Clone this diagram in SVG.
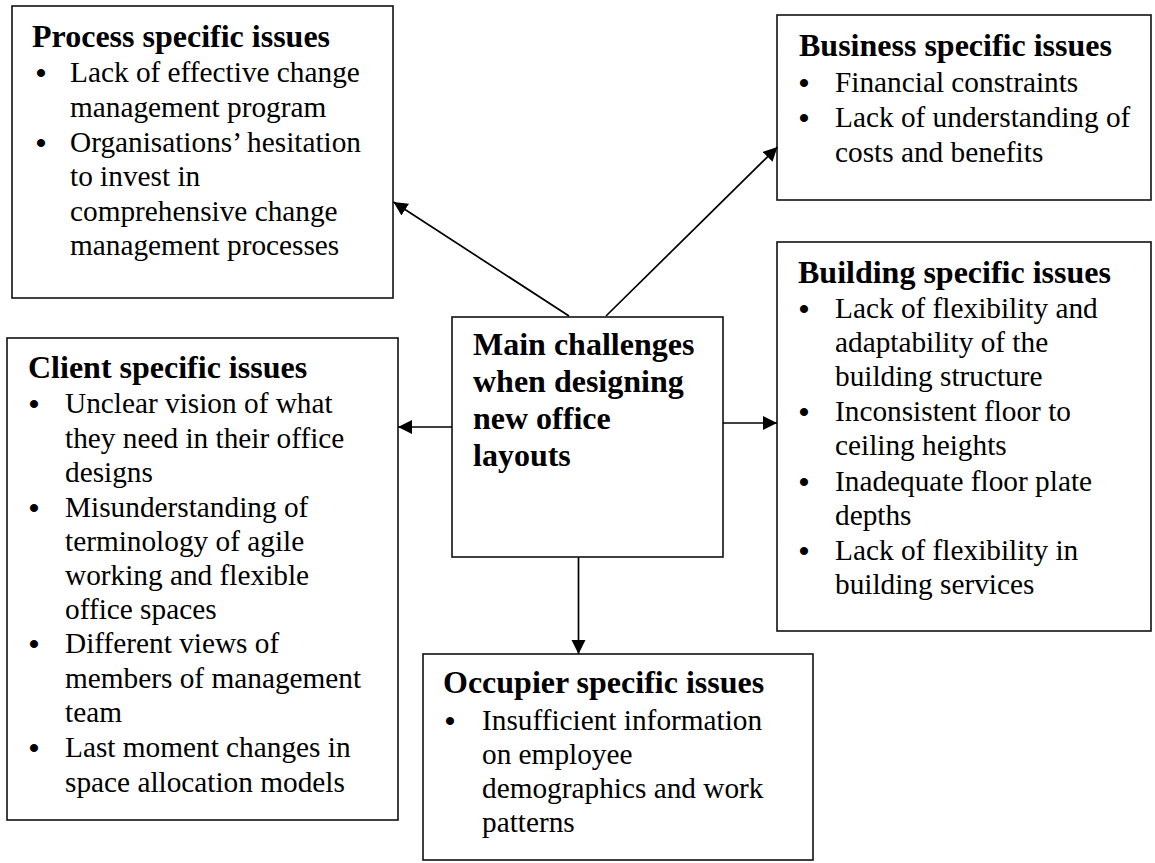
<svg xmlns="http://www.w3.org/2000/svg" width="1155" height="863" viewBox="0 0 1155 863">
  <style>
    .box { fill: #ffffff; stroke: #111111; stroke-width: 1.6; }
    .t { font-family: "Liberation Serif", "Times New Roman", serif; font-weight: bold; font-size: 32px; fill: #000000; }
    .b { font-family: "Liberation Serif", "Times New Roman", serif; font-size: 29.3px; fill: #000000; }
    .dot { font-family: "Liberation Serif", "Times New Roman", serif; font-size: 30px; font-weight: bold; fill: #000000; text-anchor: middle; }
    .edge { fill: none; stroke: #000000; stroke-width: 1.7; marker-end: url(#head); }
  </style>
  <defs>
    <marker id="head" markerUnits="userSpaceOnUse" markerWidth="15" markerHeight="15" refX="14" refY="7" orient="auto">
      <path d="M0,0 L14,7 L0,14 z" fill="#000000"/>
    </marker>
  </defs>
  <rect width="1155" height="863" fill="#ffffff"/>

  <!-- Process specific issues -->
  <g id="process">
    <rect class="box" x="12" y="6" width="381" height="292"/>
    <text class="t" x="32" y="47">Process specific issues</text>
    <text class="dot" x="41" y="83">•</text>
    <text class="b" x="70" y="82">Lack of effective change</text>
    <text class="b" x="70" y="117">management program</text>
    <text class="dot" x="41" y="153">•</text>
    <text class="b" x="70" y="152">Organisations’ hesitation</text>
    <text class="b" x="70" y="186">to invest in</text>
    <text class="b" x="70" y="221">comprehensive change</text>
    <text class="b" x="70" y="255">management processes</text>
  </g>

  <!-- Business specific issues -->
  <g id="business">
    <rect class="box" x="777" y="15" width="374" height="185"/>
    <text class="t" x="799" y="56">Business specific issues</text>
    <text class="dot" x="804" y="93">•</text>
    <text class="b" x="835" y="92">Financial constraints</text>
    <text class="dot" x="804" y="128">•</text>
    <text class="b" x="835" y="127">Lack of understanding of</text>
    <text class="b" x="835" y="162">costs and benefits</text>
  </g>

  <!-- Building specific issues -->
  <g id="building">
    <rect class="box" x="777" y="242" width="374" height="389"/>
    <text class="t" x="798" y="283">Building specific issues</text>
    <text class="dot" x="804" y="319">•</text>
    <text class="b" x="835" y="318">Lack of flexibility and</text>
    <text class="b" x="835" y="352">adaptability of the</text>
    <text class="b" x="835" y="386">building structure</text>
    <text class="dot" x="804" y="422">•</text>
    <text class="b" x="835" y="421">Inconsistent floor to</text>
    <text class="b" x="835" y="455">ceiling heights</text>
    <text class="dot" x="804" y="492">•</text>
    <text class="b" x="835" y="491">Inadequate floor plate</text>
    <text class="b" x="835" y="525">depths</text>
    <text class="dot" x="804" y="561">•</text>
    <text class="b" x="835" y="560">Lack of flexibility in</text>
    <text class="b" x="835" y="594">building services</text>
  </g>

  <!-- Client specific issues -->
  <g id="client">
    <rect class="box" x="7" y="338" width="391" height="482"/>
    <text class="t" x="28" y="378">Client specific issues</text>
    <text class="dot" x="34" y="414">•</text>
    <text class="b" x="65" y="413">Unclear vision of what</text>
    <text class="b" x="65" y="448">they need in their office</text>
    <text class="b" x="65" y="482">designs</text>
    <text class="dot" x="34" y="518">•</text>
    <text class="b" x="65" y="517">Misunderstanding of</text>
    <text class="b" x="65" y="551">terminology of agile</text>
    <text class="b" x="65" y="585">working and flexible</text>
    <text class="b" x="65" y="619">office spaces</text>
    <text class="dot" x="34" y="654">•</text>
    <text class="b" x="65" y="653">Different views of</text>
    <text class="b" x="65" y="688">members of management</text>
    <text class="b" x="65" y="722">team</text>
    <text class="dot" x="34" y="758">•</text>
    <text class="b" x="65" y="757">Last moment changes in</text>
    <text class="b" x="65" y="792">space allocation models</text>
  </g>

  <!-- Occupier specific issues -->
  <g id="occupier">
    <rect class="box" x="423" y="654" width="390" height="206"/>
    <text class="t" x="443" y="693">Occupier specific issues</text>
    <text class="dot" x="450" y="731">•</text>
    <text class="b" x="482" y="730">Insufficient information</text>
    <text class="b" x="482" y="764">on employee</text>
    <text class="b" x="482" y="798">demographics and work</text>
    <text class="b" x="482" y="832">patterns</text>
  </g>

  <!-- Central node -->
  <g id="main">
    <rect class="box" x="452" y="317" width="271" height="240"/>
    <text class="t" x="473" y="355">Main challenges</text>
    <text class="t" x="473" y="392">when designing</text>
    <text class="t" x="473" y="429">new office</text>
    <text class="t" x="473" y="466">layouts</text>
  </g>

  <!-- Connectors from the central node -->
  <g id="connectors">
    <line class="edge" x1="569" y1="316" x2="393.5" y2="202"/>
    <line class="edge" x1="606" y1="316" x2="777.5" y2="147"/>
    <line class="edge" x1="452" y1="427" x2="398" y2="427"/>
    <line class="edge" x1="723" y1="423" x2="777" y2="423"/>
    <line class="edge" x1="578.5" y1="557" x2="578.5" y2="654"/>
  </g>
</svg>
